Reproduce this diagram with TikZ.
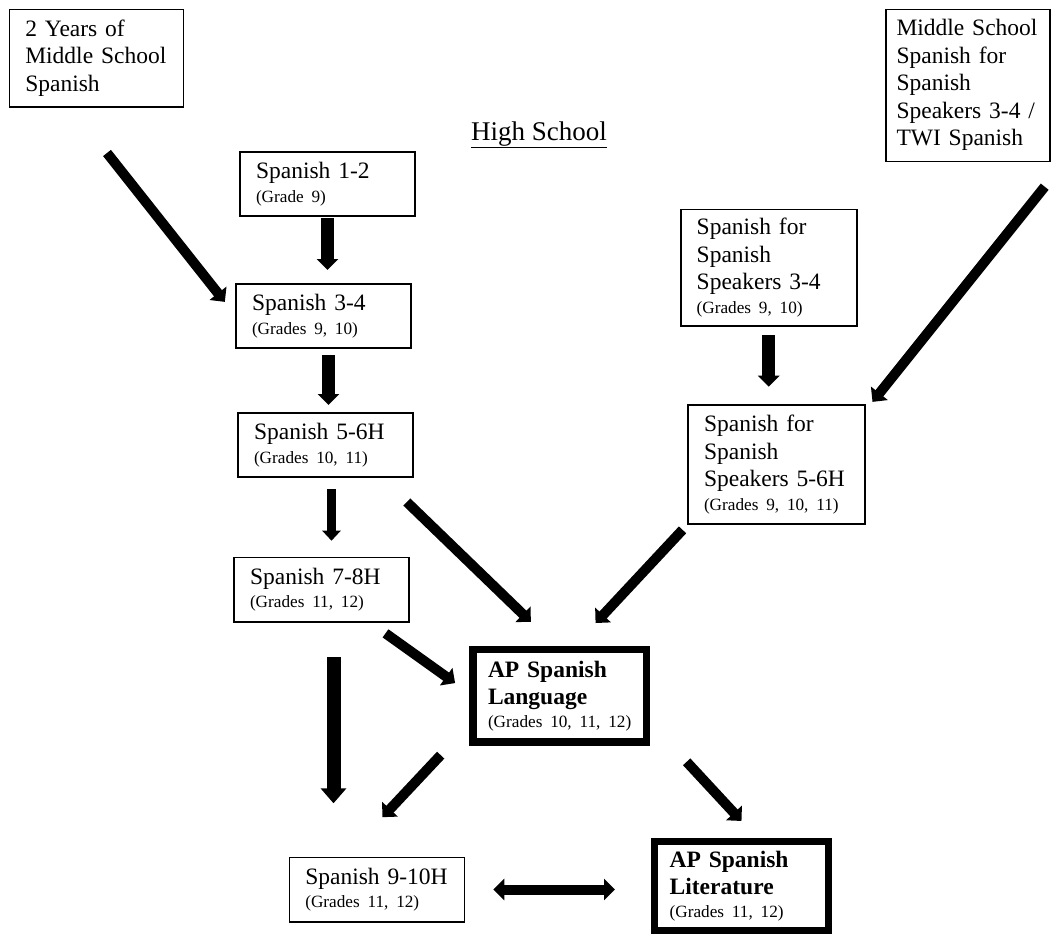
\documentclass[tikz,border=0pt]{standalone}
\usepackage{fontspec}
\setmainfont{Liberation Serif}
\newfontfamily\gradefont{Liberation Serif}[WordSpace=0.6]
\usepackage{tikz}
\usetikzlibrary{arrows.meta}
\frenchspacing
\newcommand{\mainsize}{\fontsize{23.5}{27.5}\selectfont}
\newcommand{\gradesize}{\gradefont\fontsize{17.2}{20}\selectfont\mdseries}
\tikzset{box/.style={draw, line width=1.6pt, outer sep=0pt, anchor=north west,
   align=left, inner xsep=16pt, inner ysep=0pt, font=\mainsize},
 apbox/.style={box, line width=7.5pt, inner xsep=15pt, font=\mainsize\bfseries},
 arr/.style={line width=10pt, -{Triangle[width=21pt,length=11pt]}},
 }

\begin{document}
\begin{tikzpicture}[x=1pt, y=-1pt]
        \useasboundingbox (0,0) rectangle (1051,935);
        \node[box, minimum width=174pt, minimum height=97.4pt, text width=142pt] (ms2) at (9.3,9.3) {2 Years of\\Middle School\\Spanish};
        \node[box, minimum width=164pt, minimum height=152pt, text width=143pt, inner xsep=10.5pt] (mss) at (886,9.3) {Middle School\\Spanish for\\Spanish\\Speakers 3-4 /\\TWI Spanish};
        \node[font=\fontsize{27}{31}\selectfont, anchor=base] (title) at (539,140) {\underline{High School}};
        \node[box, minimum width=175pt, minimum height=64pt, text width=143pt] (s12) at (240,152) {Spanish 1-2\\[-4pt]{\gradesize (Grade 9)}};
        \node[box, minimum width=175pt, minimum height=64pt, text width=143pt] (s34) at (236,284) {Spanish 3-4\\[-4pt]{\gradesize (Grades 9, 10)}};
        \node[box, minimum width=175pt, minimum height=64pt, text width=143pt] (s56) at (238,413) {Spanish 5-6H\\[-4pt]{\gradesize (Grades 10, 11)}};
        \node[box, minimum width=175pt, minimum height=64.4pt, text width=143pt] (s78) at (234,557.3) {Spanish 7-8H\\[-4pt]{\gradesize (Grades 11, 12)}};
        \node[box, minimum width=175pt, minimum height=64.4pt, text width=143pt] (s910) at (289.3,857.3) {Spanish 9-10H\\[-4pt]{\gradesize (Grades 11, 12)}};
        \node[box, minimum width=176pt, minimum height=116.7pt, text width=144pt] (ss34) at (680.7,209.3) {Spanish for\\Spanish\\Speakers 3-4\\[-4pt]{\gradesize (Grades 9, 10)}};
        \node[box, minimum width=177pt, minimum height=119pt, text width=145pt] (ss56) at (688,405) {Spanish for\\Spanish\\Speakers 5-6H\\[-4pt]{\gradesize (Grades 9, 10, 11)}};
        \node[apbox, minimum width=173.3pt, minimum height=92.3pt, text width=143.3pt] (apl) at (473,649.7) {AP Spanish\\Language\\[-5pt]{\gradesize (Grades 10, 11, 12)}};
        \node[apbox, minimum width=173.6pt, minimum height=89pt, text width=143.6pt] (lit) at (654.7,841.5) {AP Spanish\\Literature\\[-5pt]{\gradesize (Grades 11, 12)}};
        \draw[arr, shorten <=59pt, shorten >=18pt] (ms2.-118) -- (s34.west);
        \draw[arr, line width=13pt, shorten <=2.3pt, shorten >=14pt] (s12.south) -- (s12.south |- s34.north);
        \draw[arr, line width=13pt, shorten <=7pt, shorten >=8pt] ([xshift=5pt]s34.south) -- ([xshift=5pt]s34.south |- s56.north);
        \draw[arr, line width=9.5pt, -{Triangle[width=18pt,length=10pt]}, shorten <=12pt, shorten >=16.6pt] ([xshift=6pt]s56.south) -- ([xshift=6pt]s56.south |- s78.north);
        \draw[arr, line width=13pt, shorten <=9pt, shorten >=18.3pt] (ss34.south) -- (ss34.south |- ss56.north);
        \draw[arr, shorten <=32.5pt, shorten >=4pt] ([xshift=15pt]mss.south east) -- ([xshift=5pt]ss56.north east);
        \draw[arr, shorten <=36pt, shorten >=40pt] (s56.-30) -- (apl.north);
        \draw[arr, shorten <=8pt, shorten >=36.5pt] (ss56.south west) -- ([xshift=11pt]apl.north);
        \draw[arr, shorten <=20pt, shorten >=22pt] (s78.-34) -- (apl.west);
        \draw[arr, line width=14pt, -{Triangle[width=25pt,length=15pt]}, shorten <=35.6pt, shorten >=54pt] ([xshift=12pt]s78.south) -- ([xshift=12pt]s78.south |- s910.north);
        \draw[arr, shorten <=18pt, shorten >=55pt] ([xshift=-20pt]apl.south west) -- ([xshift=-32pt]s910.north);
        \draw[arr, shorten <=27pt, shorten >=28pt] ([xshift=22pt]apl.south east) -- ([xshift=19pt]lit.north);
        \draw[arr, {Triangle[width=21pt,length=11pt]}-{Triangle[width=21pt,length=11pt]}, shorten <=29pt, shorten >=39.7pt] (s910.east) -- (s910.east -| lit.west);
    \end{tikzpicture}
\end{document}
